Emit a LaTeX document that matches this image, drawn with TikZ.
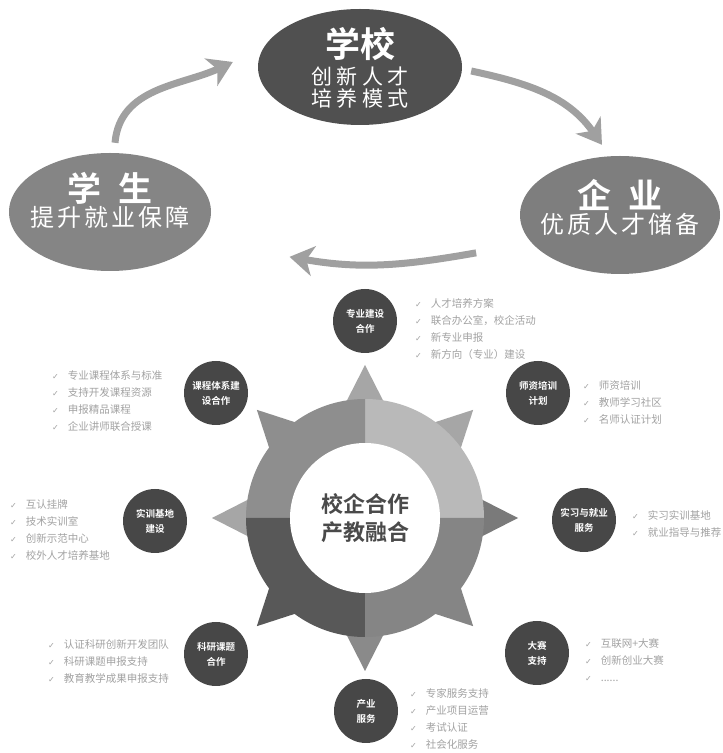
\documentclass[tikz,border=0pt]{standalone}
\usepackage{fontspec}
\usepackage{xcolor}
\usepackage{tikz}
\usetikzlibrary{shapes.geometric,arrows.meta}
\setmainfont{Noto Sans CJK SC}[BoldFont={Noto Sans CJK SC Bold}]
\newfontfamily\symfont{DejaVu Sans}
\definecolor{ringA}{HTML}{B9B9B9}
\definecolor{ringB}{HTML}{8E8E8E}
\definecolor{ringC}{HTML}{585858}
\definecolor{ringD}{HTML}{858585}
\definecolor{spikeA}{HTML}{A6A6A6}
\definecolor{spikeE}{HTML}{7A7A7A}
\definecolor{spikeF}{HTML}{8A8A8A}
\definecolor{topicgray}{HTML}{474747}
\definecolor{itemgray}{HTML}{A2A2A2}
\definecolor{arrowgray}{HTML}{A0A0A0}
\definecolor{schoolgray}{HTML}{505050}
\definecolor{studentgray}{HTML}{858585}
\definecolor{companygray}{HTML}{7E7E7E}
\definecolor{hubtext}{HTML}{4A4A4A}
\newcommand{\chk}{{\symfont\fontsize{8}{8}\selectfont ✓}\hspace{9pt}}

\begin{document}
\begin{tikzpicture}[
        x=1pt, y=1pt,
        pole/.style={
            ellipse,
            inner sep=0pt,
            minimum width=202pt,
            minimum height=118pt
        },
        polelabel/.style={
            inner sep=0pt,
            text=white,
            align=center
        },
        topic/.style={
            circle,
            fill=topicgray,
            minimum size=64pt,
            inner sep=0pt,
            text=white,
            align=center,
            font=\bfseries\fontsize{9.5}{15}\selectfont
        },
        items/.style={
            anchor=north west,
            inner sep=0pt,
            align=left,
            text=itemgray,
            font=\fontsize{10.5}{17}\selectfont
        },
        hub/.style={
            circle,
            fill=white,
            minimum size=150pt,
            inner sep=0pt,
            text=hubtext,
            align=center,
            font=\bfseries\fontsize{22}{28}\selectfont
        },
        flow/.style={
            -{Stealth[length=24pt, width=30pt, inset=7pt]},
            line width=7pt,
            draw=arrowgray
        }
    ]

    \fill[white] (0,0) rectangle (723,753);

    % three partners
    \node[pole, fill=schoolgray, minimum width=204pt, minimum height=116pt,
        label={[polelabel, yshift=-1pt, font=\fontsize{21}{22}\selectfont\addfontfeature{LetterSpace=20}]center:{{\bfseries\fontsize{35}{35}\selectfont\addfontfeature{LetterSpace=0}学校}\\[5pt]创新人才\\培养模式}}] (school) at (360,686) {};
    \node[pole, fill=studentgray,
        label={[polelabel, yshift=12pt, font=\fontsize{24}{25}\selectfont\addfontfeature{LetterSpace=12}]center:{{\bfseries\fontsize{34}{34}\selectfont\addfontfeature{LetterSpace=0}学\hspace{18pt}生}\\提升就业保障}}] (student) at (110,541) {};
    \node[pole, fill=companygray, minimum width=200pt,
        label={[polelabel, yshift=8pt, font=\fontsize{24}{25}\selectfont\addfontfeature{LetterSpace=12}]center:{{\bfseries\fontsize{34}{34}\selectfont\addfontfeature{LetterSpace=0}企\hspace{18pt}业}\\优质人才储备}}] (company) at (620,538) {};

    \draw[flow] ([shift={(5,10)}]student.north) to[out=85, in=205] ([shift={(-25,5)}]school.west);
    \draw[flow] ([shift={(9,-4)}]school.east) to[out=-12, in=125] ([shift={(-18,11)}]company.north);
    \draw[flow] ([shift={(-73,4)}]company.south west) to[out=190, in=-10] ([shift={(108,-3)}]student.south east);

    % gear
    \begin{scope}[shift={(365,235)}]
        \foreach \a/\c in {90/spikeA, 45/spikeA, 0/spikeE, -45/ringD, -90/spikeF, -135/ringC, 180/spikeA, 135/ringB}
            \fill[\c] (\a:153) -- (\a+17:100) -- (\a-17:100) -- cycle;
        \fill[ringA] (0,0) -- (0:119) arc[start angle=0, end angle=90, radius=119] -- cycle;
        \fill[ringB] (0,0) -- (90:119) arc[start angle=90, end angle=180, radius=119] -- cycle;
        \fill[ringC] (0,0) -- (180:119) arc[start angle=180, end angle=270, radius=119] -- cycle;
        \fill[ringD] (0,0) -- (270:119) arc[start angle=270, end angle=360, radius=119] -- cycle;
    \end{scope}
    \node[hub] (core) at (365,235) {校企合作\\产教融合};

    % topics
    \node[topic] (major) at (365,432) {专业建设\\合作};
    \node[topic] (teacher) at (538,360) {师资培训\\计划};
    \node[topic] (course) at (216,360) {课程体系建\\设合作};
    \node[topic] (base) at (155,232) {实训基地\\建设};
    \node[topic] (intern) at (584,233) {实习与就业\\服务};
    \node[topic] (research) at (216,99) {科研课题\\合作};
    \node[topic] (contest) at (537,100) {大赛\\支持};
    \node[topic] (industry) at (366,42) {产业\\服务};

    % topic items
    \node[items] (majoritems) at (415,455) {\chk 人才培养方案\\\chk 联合办公室，校企活动\\\chk 新专业申报\\\chk 新方向（专业）建设};
    \node[items] (courseitems) at (52,383) {\chk 专业课程体系与标准\\\chk 支持开发课程资源\\\chk 申报精品课程\\\chk 企业讲师联合授课};
    \node[items] (teacheritems) at (583,373) {\chk 师资培训\\\chk 教师学习社区\\\chk 名师认证计划};
    \node[items] (baseitems) at (10,254) {\chk 互认挂牌\\\chk 技术实训室\\\chk 创新示范中心\\\chk 校外人才培养基地};
    \node[items] (internitems) at (632,243) {\chk 实习实训基地\\\chk 就业指导与推荐};
    \node[items] (researchitems) at (48,114) {\chk 认证科研创新开发团队\\\chk 科研课题申报支持\\\chk 教育教学成果申报支持};
    \node[items] (contestitems) at (585,115) {\chk 互联网+大赛\\\chk 创新创业大赛\\\chk ......};
    \node[items] (industryitems) at (410,65) {\chk 专家服务支持\\\chk 产业项目运营\\\chk 考试认证\\\chk 社会化服务};

\end{tikzpicture}
\end{document}
